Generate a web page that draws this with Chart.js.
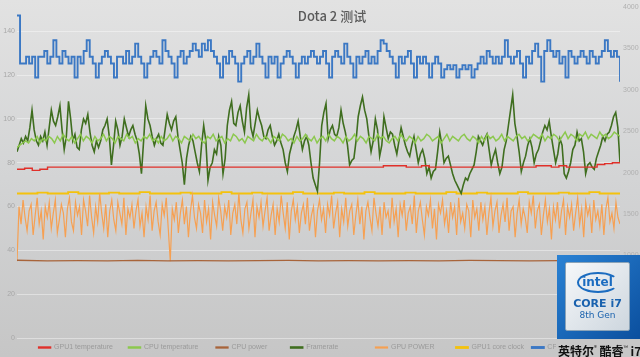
<!DOCTYPE html>
<html><head><meta charset="utf-8">
<script src="https://cdn.jsdelivr.net/npm/chart.js@4/dist/chart.umd.min.js"></script>
<style>
html,body{margin:0;padding:0;}
body{width:640px;height:357px;overflow:hidden;position:relative;background:linear-gradient(180deg,#e2e2e2 0%,#d3d4d5 50%,#c6c6c6 100%);font-family:"Noto Sans",sans-serif;}
#wrap{position:absolute;left:0;top:0;width:640px;height:357px;}
#badge{position:absolute;left:557px;top:255px;width:83px;height:84px;background:linear-gradient(135deg,#2a82d4,#0b4f9e);}
#inner{position:absolute;left:8px;top:7px;width:65px;height:69px;background:linear-gradient(135deg,#f6f8fa,#cdd6de);border:1px solid #8aa3b8;box-sizing:border-box;text-align:center;border-radius:2px;}
#intel{margin:9px auto 0;width:42px;height:21px;border:2px solid #1b6cc0;border-radius:50%;border-right-color:transparent;box-sizing:border-box;font:bold 12px "DejaVu Sans",sans-serif;color:#1b6cc0;line-height:16px;}
#core{font:bold 11px "DejaVu Sans",sans-serif;color:#1a62ae;margin-top:5px;line-height:12px;}
#gen{font:9px "DejaVu Sans",sans-serif;color:#1a62ae;line-height:10px;}
#cn{position:absolute;left:556px;top:339px;width:84px;height:18px;background:#c7c7c7;font:bold 12px "Noto Sans CJK SC",sans-serif;color:#111;line-height:18px;white-space:nowrap;padding-left:2px;}
#cn sup{font-size:6px;vertical-align:6px;font-weight:normal;}
</style></head>
<body>
<div id="wrap"><canvas id="c" width="640" height="357"></canvas></div>
<div id="badge"><div id="inner"><div id="intel">intel</div><div id="core">CORE i7</div><div id="gen">8th Gen</div></div></div>
<div id="cn">英特尔<sup>®</sup> 酷睿<sup>™</sup> i7</div>
<script>
const seriesNames = ["GPU1 temperature","CPU temperature","CPU power","Framerate","GPU POWER","GPU1 core clock","CPU clock"];
const leftTicks = [0,20,40,60,80,100,120,140];
const rightTicks = [0,500,1000,1500,2000,2500,3000,3500,4000];

const gpuTemp = [77,77.5,76.5,77,78,78,78,78,78,78,78,78,78,78,78,78,78,78,78,78,78,78,78,78,78,78,78,78,78,78,78,78,78,78,78,78,78,78,78,78,78,78,78,78,78,78,78,78,78.6,78.6,78.6,78,78,78.6,78,78,78,78,78,78,78,78,78,78,78,78,78,78,78.6,78.6,78,78.6,78,78,78,78,79.2,79.6,80,80];
const cpuTemp = [87,88,89,90,89,91,90,92,89,91,90,92,91,89,92,90,93,91,90,92,89,91,93,90,92,91,89,92,90,91,
93,90,92,91,89,92,91,90,93,91,92,89,91,90,92,91,93,90,91,89,92,90,91,93,90,92,91,89,92,91,
90,93,91,92,90,89,92,91,93,90,91,92,89,91,90,93,92,90,91,89,92,91,90,93,91,90,92,91,89,92,
91,90,93,92,90,91,89,92,90,91,93,91,90,92,89,91,92,90,93,91,90,92,91,89,92,90,91,93,90,92,
91,89,92,91,90,93,91,92,90,89,91,92,90,93,91,90,92,91,89,92,90,91,93,92,90,91,92,89,91,93,
90,92,91,90,92,93,91,90,92,91,89,92,90,93,91,92,90,91,93,90,92,91,90,92,93,91,92,90,91,93,
92,91,93,90,92,91,93,92,90,92,94,91,93,92,90,93,92,94,91,93,92,91,94,92,93,91,92,94,93,92];
const cpuPower = [35.5,35.2,35.3,35.2,35.4,35.2,35.3,35.2,35.3,35.4,35.2,35.3,35.2,35.3,35.2,35.4,35.3,35.2,35.3,35.2,35.3];
const framerate = [85,88,91,89,92,90,96,104,95,90,88,92,90,94,88,96,104,99,97,101,106,95,86,92,108,100,90,93,87,86,95,100,98,102,94,88,85,90,87,90,95,97,100,92,79,88,99,95,88,92,100,96,92,95,97,93,90,84,75,90,106,100,97,92,88,91,93,89,88,95,102,98,95,99,101,92,86,80,70,82,88,92,90,85,80,76,88,97,90,72,78,80,86,84,92,88,75,82,97,104,108,98,97,103,106,99,94,105,111,96,92,98,104,100,97,92,91,95,97,92,88,90,93,89,86,80,76,84,88,92,95,99,92,86,90,92,88,80,73,70,67,80,97,103,107,
 91,95,97,93,92,96,104,98,94,88,79,81,82,90,101,106,110,104,100,92,85,90,100,95,83,88,101,96,91,94,93,88,84,90,96,92,88,85,83,88,92,86,80,84,86,82,75,78,73,76,77,85,94,88,80,82,83,79,75,72,70,68,66,70,73,72,75,77,79,85,92,90,88,91,93,86,79,83,86,80,75,78,86,90,97,104,111,98,92,85,76,80,83,88,91,87,80,84,86,90,94,97,95,99,92,86,80,84,91,88,75,73,76,80,86,88,94,90,91,85,75,79,80,78,77,82,85,88,92,90,93,94,97,101,103,96,80];
const gpuPower = [35,60,52,63,55,49,58,61,47,56,64,52,58,45,60,55,62,50,57,63,48,54,61,57,46,59,64,53,49,62,
56,60,47,63,58,51,65,55,48,60,53,66,57,50,61,46,58,63,54,49,62,57,52,64,47,59,55,61,50,58,
63,51,57,46,60,54,65,49,58,62,53,47,61,56,64,50,35,59,54,62,48,57,63,52,60,46,58,65,55,50,
61,57,48,63,53,59,45,62,56,51,64,58,49,60,55,63,47,57,61,52,66,54,48,59,62,50,57,63,46,60,
55,62,51,58,64,49,56,61,47,59,53,65,57,50,62,45,58,63,54,60,48,57,61,52,64,49,56,60,46,58,
63,54,59,48,61,56,65,50,57,62,46,59,53,64,51,58,61,47,56,63,52,60,45,58,62,55,49,64,57,51,
60,47,62,55,58,50,64,53,59,46,61,56,63,49,57,60,52,65,48,58,62,54,47,60,56,63,50,59,45,61,
57,63,52,58,48,62,55,60,47,64,53,57,50,61,58,46,63,55,59,49,62,54,60,47,57,64,51,58,62,48,
56,61,53,64,49,58,60,46,57,63,52,59,55,48,62,57,65,50,58,61,47,56,63,53,59,45,60,54,62,50,
58,63,47,60,55,61,49,57,64,52,59,46,62,56,60,48,63,54,58,51,61,47,59,64,53,57,50,62,55,52];
const gpuClock = [1747,1747,1758,1747,1747,1765,1747,1747,1747,1758,1747,1747,1765,1747,1747,1747,1758,1747,1747,1747,1765,1747,1747,1758,1747,1747,1747,1765,1747,1747,1747,1758,1747,1747,1765,1747,1747,1747,1758,1747,1747,1747,1765,1747,1747,1758,1747,1747,1747,1765,1747,1747,1747,1758,1747,1747,1765,1747,1747,1747];
const cpuClock = [3900,3320,3320,3400,3320,3400,3150,3400,3400,3470,3320,3400,3600,3400,3320,3470,3400,3320,3400,3150,3400,3320,3470,3600,3400,3320,3150,3320,3400,3470,3400,3320,3150,3400,3400,3320,3470,3320,3400,3560,3400,3320,3150,3320,3400,3470,3400,3320,3600,3470,3400,3320,3150,3400,3470,3320,3400,3470,3560,3480,3400,3560,3480,3600,3470,3400,3320,3150,3400,3320,3470,3400,3320,3100,3320,3400,3470,3320,3400,3560,3400,3320,3150,3400,3320,3400,3150,3320,3400,3470,3400,3320,3150,3320,3400,3320,3400,3470,3400,3320,
 3400,3470,3320,3150,3400,3470,3400,3320,3560,3400,3320,3150,3400,3320,3400,3470,3320,3400,3320,3470,3600,3560,3470,3400,3320,3150,3400,3320,3400,3470,3320,3150,3400,3320,3400,3320,3150,3320,3400,3320,3150,3250,3300,3250,3300,3150,3250,3300,3250,3300,3150,3250,3320,3400,3320,3470,3400,3320,3400,3320,3400,3600,3400,3320,3400,3470,3320,3150,3400,3320,3470,3560,3400,3100,3470,3600,3470,3400,3470,3320,3400,3150,3470,3400,3320,3400,3470,3400,3320,3470,3400,3320,3400,3470,3600,3470,3400,3470,3400,3100];

function pts(arr){ return arr.map((v,i)=>({x:i/(arr.length-1), y:v})); }

const legendSlots = [71.5,68.5,56,67,62,57,54];
const LEG_FONT = '7px "Liberation Sans"';
const measCtx = document.createElement('canvas').getContext('2d');
measCtx.font = LEG_FONT;
function padText(t, w){ let s = t; let n = 0; while (measCtx.measureText(s).width < w && n < 60){ s += ' '; n++; } return s; }

const titlePlugin = {
  id:'ttl',
  afterLayout(chart){
    if (chart.legend) { chart.legend.top += 4; chart.legend.bottom += 4; }
  },
  afterDraw(chart){
    const ctx = chart.ctx;
    ctx.save();
    ctx.font = '500 13px "Noto Sans CJK SC","Noto Sans",sans-serif';
    ctx.fillStyle = '#5a5a5a';
    ctx.textAlign = 'center';
    ctx.textBaseline = 'middle';
    ctx.fillText('Dota 2 测试', 332, 16);
    ctx.restore();
  }
};

const mk = (label, data, color, axis, width, extra) => Object.assign({
  label, data: pts(data), borderColor: color, backgroundColor: color, yAxisID: axis,
  borderWidth: width, pointRadius: 0, tension: 0, fill: false
}, extra||{});

new Chart(document.getElementById('c'), {
  type: 'line',
  data: {
    datasets: [
      mk(seriesNames[0], gpuTemp, '#e0302a', 'yL', 1.4, {stepped:true}),
      mk(seriesNames[1], cpuTemp, '#8cc84e', 'yL', 1.5),
      mk(seriesNames[2], cpuPower, '#a8643a', 'yL', 1.3),
      mk(seriesNames[3], framerate, '#3f6e1f', 'yL', 1.6),
      mk(seriesNames[4], gpuPower, '#f6a052', 'yL', 1.2),
      mk(seriesNames[5], gpuClock, '#f4c20d', 'yR', 1.8, {stepped:true}),
      mk(seriesNames[6], cpuClock, '#3b78c4', 'yR', 1.9, {stepped:true})
    ]
  },
  options: {
    responsive: false, animation: false,
    layout: {padding: {top: 2, bottom: 0, left: 0, right: 0}},
    plugins: {
      legend: {
        position: 'bottom',
        labels: {
          font: {size: 7, family: 'Liberation Sans'}, color: '#9a9a9a', boxWidth: 12, boxHeight: 1, padding: 2,
          generateLabels(chart){
            const items = Chart.defaults.plugins.legend.labels.generateLabels(chart);
            items.forEach((it,i)=>{ it.text = padText(it.text, legendSlots[i]); });
            return items;
          }
        }
      },
      tooltip: {enabled: false}
    },
    scales: {
      x: {type: 'linear', min: 0, max: 1, display: false},
      yL: {
        position: 'left', min: 0, max: 151,
        afterBuildTicks(s){ s.ticks = leftTicks.map(v=>({value:v})); },
        afterFit(s){ s.width = 17; },
        ticks: {font: {size: 7, family: 'Liberation Sans'}, color: '#a8a8a8', padding: 2, callback: v => String(v)},
        grid: {color: 'rgba(255,255,255,0.4)', drawTicks: false, lineWidth: 1},
        border: {display: false}
      },
      yR: {
        position: 'right', min: 0, max: 4000,
        afterBuildTicks(s){ s.ticks = rightTicks.map(v=>({value:v})); },
        afterFit(s){ s.width = 20; },
        ticks: {font: {size: 7, family: 'Liberation Sans'}, color: '#b0b0b0', padding: 3, callback: v => String(v)},
        grid: {display: false, drawTicks: false},
        border: {display: false}
      }
    }
  },
  plugins: [titlePlugin]
});
</script>
</body></html>
